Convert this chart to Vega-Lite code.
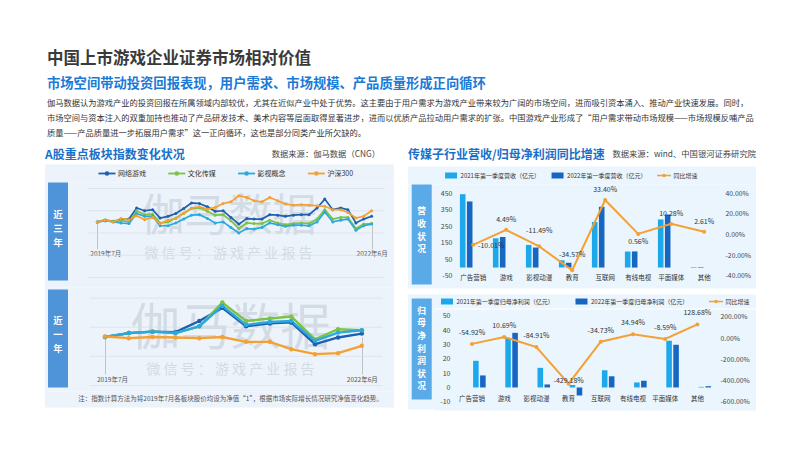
{
  "$schema": "https://vega.github.io/schema/vega-lite/v6.json",
  "background": "white",
  "padding": {"left": 45, "top": 51, "right": 46, "bottom": 43},
  "config": {
    "font": "Noto Sans CJK SC",
    "view": {"stroke": null},
    "locale": {"number": {"decimal": ".", "thousands": ",", "grouping": [3], "currency": ["", ""], "minus": "-"}},
    "axis": {"labelFont": "Noto Sans CJK SC", "domain": false, "ticks": false, "grid": false, "labelColor": "#444", "labelFontSize": 7}
  },
  "title": {
    "text": "中国上市游戏企业证券市场相对价值",
    "subtitle": "市场空间带动投资回报表现，用户需求、市场规模、产品质量形成正向循环",
    "anchor": "start", "frame": "group", "dx": 2,
    "fontSize": 16.5, "fontWeight": "bold", "color": "#3a3a3a",
    "subtitleFontSize": 13.3, "subtitleFontWeight": "bold", "subtitleColor": "#1a7ad6",
    "subtitlePadding": 9, "offset": 6
  },
  "spacing": 5.5,
  "resolve": {"scale": {"color": "independent"}},
  "vconcat": [
    {
      "width": 711, "height": 45,
      "data": {"values": [
        {"line": 1, "text": "伽马数据认为游戏产业的投资回报在所属领域内部较优，尤其在近似产业中处于优势。这主要由于用户需求为游戏产业带来较为广阔的市场空间，进而吸引资本涌入、推动产业快速发展。同时，"},
        {"line": 2, "text": "市场空间与资本注入的双重加持也推动了产品研发技术、美术内容等层面取得显著进步，进而以优质产品拉动用户需求的扩张。中国游戏产业形成了“用户需求带动市场规模——市场规模反哺产品"},
        {"line": 3, "text": "质量——产品质量进一步拓展用户需求”这一正向循环，这也是部分同类产业所欠缺的。"}
      ]},
      "mark": {"type": "text", "align": "left", "baseline": "middle", "fontSize": 8.25, "color": "#333", "dx": 2},
      "encoding": {
        "x": {"value": 0},
        "y": {"field": "line", "type": "ordinal", "scale": {"type": "point", "padding": 0.5}, "axis": null},
        "text": {"field": "text"}
      }
    },
    {
      "hconcat": [
        {
          "vconcat": [
            {
              "width": 349, "height": 18,
              "data": {"values": [{"role": "head", "t": "A股重点板块指数变化状况"}, {"role": "src", "t": "数据来源：伽马数据（CNG）"}]},
              "layer": [
                {"transform": [{"filter": "datum.role == 'head'"}], "mark": {"type": "text", "align": "left", "baseline": "middle", "fontSize": 12, "fontWeight": "bold", "color": "#1a6fc7", "dy": -1}, "encoding": {"x": {"value": 0}, "text": {"field": "t"}}},
                {"transform": [{"filter": "datum.role == 'src'"}], "mark": {"type": "text", "align": "right", "baseline": "middle", "fontSize": 8.3, "color": "#444", "dx": -14, "dy": -1}, "encoding": {"x": {"value": "width"}, "text": {"field": "t"}}}
              ]
            },
            {
              "width": 349, "height": 18,
              "view": {"fill": "#ecf3fa"},
              "data": {"values": [{"name": "网络游戏"}, {"name": "文化传媒"}, {"name": "影视概念"}, {"name": "沪深300"}]},
              "encoding": {
                "x": {"field": "name", "type": "nominal", "scale": {"type": "point", "domain": ["网络游戏", "文化传媒", "影视概念", "沪深300"], "padding": 1, "align": 0.444}, "axis": null},
                "color": {"field": "name", "type": "nominal", "scale": {"domain": ["网络游戏", "文化传媒", "影视概念", "沪深300"], "range": ["#1f5fae", "#7dc242", "#2aa9e1", "#f5a034"]}, "legend": null}
              },
              "layer": [
                {"mark": {"type": "point", "shape": "M-1,0H1", "size": 289, "strokeWidth": 1.8, "filled": false, "opacity": 1}},
                {"mark": {"type": "point", "shape": "circle", "size": 20, "filled": true, "opacity": 1}},
                {"mark": {"type": "text", "align": "left", "baseline": "middle", "dx": 11, "fontSize": 7}, "encoding": {"text": {"field": "name"}, "color": {"value": "#333"}}}
              ]
            },
            {
              "hconcat": [
                {
                  "width": 24, "height": 105,
                  "view": {"fill": "#ecf3fa"},
                  "layer": [
                    {"data": {"values": [{"k": 1}]}, "mark": {"type": "rect", "color": "#4f93d8"},
                     "encoding": {
                       "x": {"datum": 0.125, "type": "quantitative", "scale": {"domain": [0, 1], "nice": false}, "axis": null},
                       "x2": {"datum": 0.958},
                       "y": {"datum": 0, "type": "quantitative", "scale": {"domain": [0, 1], "nice": false, "reverse": true}, "axis": null},
                       "y2": {"datum": 0.933}}},
                    {"data": {"values": [{"c": "近", "i": 1}, {"c": "三", "i": 2}, {"c": "年", "i": 3}]},
                     "mark": {"type": "text", "color": "white", "fontSize": 9.6, "fontWeight": "bold", "baseline": "middle", "align": "center"},
                     "encoding": {"x": {"datum": 0.54, "type": "quantitative"}, "y": {"field": "i", "type": "quantitative", "scale": {"domain": [-1.357, 6.143], "nice": false, "zero": false, "reverse": true}, "axis": null}, "text": {"field": "c"}}}
                  ],
                  "resolve": {"scale": {"y": "independent"}}
                },
                {
                  "width": 325, "height": 105,
                  "view": {"fill": "#ecf3fa"},
                  "layer": [
                    {"data": {"values": [{"t": "伽马数据"}]}, "mark": {"type": "text", "fontSize": 44, "color": "#9aa6b4", "opacity": 0.3, "dx": -3, "dy": -17, "baseline": "middle"}, "encoding": {"text": {"field": "t"}}},
                    {"data": {"values": [{"t": "微 信 号 ： 游 戏 产 业 报 告"}]}, "mark": {"type": "text", "fontSize": 14, "color": "#9aa6b4", "opacity": 0.3, "dx": -3, "dy": 19, "baseline": "middle"}, "encoding": {"text": {"field": "t"}}},
                    {"data": {"values": [{"gv": 0}, {"gv": 0.4}, {"gv": 0.8}, {"gv": 1.2}, {"gv": 1.6}]}, "mark": {"type": "rule", "color": "#d5dee8", "strokeWidth": 0.7},
                     "encoding": {"y": {"field": "gv", "type": "quantitative", "axis": null}, "x": {"datum": {"year": 2019, "month": 5, "date": 26}, "type": "temporal"}, "x2": {"datum": {"year": 2022, "month": 7, "date": 16}}}},
                    {
                      "data": {"values": [
                        {"m": "2019-07", "网络游戏": 1.00, "文化传媒": 1.00, "影视概念": 1.00, "沪深300": 1.00},
                        {"m": "2019-08", "网络游戏": 1.02, "文化传媒": 1.04, "影视概念": 1.02, "沪深300": 1.03},
                        {"m": "2019-09", "网络游戏": 1.01, "文化传媒": 1.01, "影视概念": 1.00, "沪深300": 1.00},
                        {"m": "2019-10", "网络游戏": 1.04, "文化传媒": 1.02, "影视概念": 0.98, "沪深300": 1.06},
                        {"m": "2019-11", "网络游戏": 1.05, "文化传媒": 1.00, "影视概念": 0.97, "沪深300": 1.04},
                        {"m": "2019-12", "网络游戏": 1.25, "文化传媒": 1.20, "影视概念": 1.15, "沪深300": 1.11},
                        {"m": "2020-01", "网络游戏": 1.20, "文化传媒": 1.13, "影视概念": 1.10, "沪深300": 1.04},
                        {"m": "2020-02", "网络游戏": 1.22, "文化传媒": 1.14, "影视概念": 1.10, "沪深300": 1.08},
                        {"m": "2020-03", "网络游戏": 1.07, "文化传媒": 0.98, "影视概念": 0.93, "沪深300": 0.97},
                        {"m": "2020-04", "网络游戏": 1.10, "文化传媒": 1.00, "影视概念": 0.93, "沪深300": 1.03},
                        {"m": "2020-05", "网络游戏": 1.15, "文化传媒": 1.07, "影视概念": 0.98, "沪深300": 1.06},
                        {"m": "2020-06", "网络游戏": 1.24, "文化传媒": 1.15, "影视概念": 1.05, "沪深300": 1.16},
                        {"m": "2020-07", "网络游戏": 1.34, "文化传媒": 1.24, "影视概念": 1.12, "沪深300": 1.25},
                        {"m": "2020-08", "网络游戏": 1.33, "文化传媒": 1.25, "影视概念": 1.13, "沪深300": 1.27},
                        {"m": "2020-09", "网络游戏": 1.27, "文化传媒": 1.19, "影视概念": 1.06, "沪深300": 1.23},
                        {"m": "2020-10", "网络游戏": 1.19, "文化传媒": 1.12, "影视概念": 0.98, "沪深300": 1.26},
                        {"m": "2020-11", "网络游戏": 1.20, "文化传媒": 1.13, "影视概念": 1.00, "沪深300": 1.33},
                        {"m": "2020-12", "网络游戏": 1.08, "文化传媒": 1.02, "影视概念": 0.90, "沪深300": 1.36},
                        {"m": "2021-01", "网络游戏": 0.96, "文化传媒": 0.88, "影视概念": 0.80, "沪深300": 1.47},
                        {"m": "2021-02", "网络游戏": 1.06, "文化传媒": 0.98, "影视概念": 0.88, "沪深300": 1.44},
                        {"m": "2021-03", "网络游戏": 1.05, "文化传媒": 0.97, "影视概念": 0.87, "沪深300": 1.38},
                        {"m": "2021-04", "网络游戏": 1.05, "文化传媒": 0.97, "影视概念": 0.90, "沪深300": 1.36},
                        {"m": "2021-05", "网络游戏": 1.13, "文化传媒": 1.03, "影视概念": 0.98, "沪深300": 1.44},
                        {"m": "2021-06", "网络游戏": 1.12, "文化传媒": 0.98, "影视概念": 0.95, "沪深300": 1.38},
                        {"m": "2021-07", "网络游戏": 1.10, "文化传媒": 0.95, "影视概念": 0.92, "沪深300": 1.32},
                        {"m": "2021-08", "网络游戏": 1.12, "文化传媒": 0.97, "影视概念": 0.94, "沪深300": 1.30},
                        {"m": "2021-09", "网络游戏": 1.13, "文化传媒": 0.98, "影视概念": 0.94, "沪深300": 1.31},
                        {"m": "2021-10", "网络游戏": 1.13, "文化传媒": 0.97, "影视概念": 0.93, "沪深300": 1.30},
                        {"m": "2021-11", "网络游戏": 1.25, "文化传媒": 1.05, "影视概念": 1.00, "沪深300": 1.29},
                        {"m": "2021-12", "网络游戏": 1.41, "文化传媒": 1.22, "影视概念": 1.18, "沪深300": 1.28},
                        {"m": "2022-01", "网络游戏": 1.22, "文化传媒": 1.05, "影视概念": 1.00, "沪深300": 1.22},
                        {"m": "2022-02", "网络游戏": 1.25, "文化传媒": 1.08, "影视概念": 1.03, "沪深300": 1.22},
                        {"m": "2022-03", "网络游戏": 1.22, "文化传媒": 1.08, "影视概念": 1.05, "沪深300": 1.17},
                        {"m": "2022-04", "网络游戏": 0.98, "文化传媒": 0.88, "影视概念": 0.85, "沪深300": 1.07},
                        {"m": "2022-05", "网络游戏": 1.05, "文化传媒": 0.96, "影视概念": 0.93, "沪深300": 1.10},
                        {"m": "2022-06", "网络游戏": 1.10, "文化传媒": 0.97, "影视概念": 0.96, "沪深300": 1.20}
                      ]},
                      "transform": [{"fold": ["网络游戏", "文化传媒", "影视概念", "沪深300"], "as": ["s", "v"]}],
                      "encoding": {
                        "x": {"field": "m", "type": "temporal", "scale": {"domain": [{"year": 2019, "month": 3, "date": 13}, {"year": 2022, "month": 8, "date": 27}], "nice": false},
                              "axis": {"values": [{"year": 2019, "month": 7, "date": 1}, {"year": 2022, "month": 6, "date": 1}], "labelExpr": "year(datum.value) == 2019 ? '2019年7月' : '2022年6月'", "labelOffset": {"condition": {"test": "year(datum.value) == 2019", "value": 8}, "value": 0}, "labelFlush": false, "orient": "bottom", "offset": -65.6, "ticks": true, "tickSize": 27, "tickColor": "#b5b5b5", "tickWidth": 0.8, "labelPadding": 2, "labelFontSize": 6.5, "labelColor": "#555", "labelAngle": 0, "domain": false, "grid": false, "title": null}},
                        "y": {"field": "v", "type": "quantitative", "scale": {"domain": [-0.18, 1.708], "nice": false},
                              "axis": {"values": [0, 0.4, 0.8, 1.2, 1.6], "format": ".1f", "offset": -17, "labelPadding": 3, "grid": false, "domain": false, "ticks": false, "title": null, "labelFontSize": 7, "labelColor": "#444"}},
                        "color": {"field": "s", "type": "nominal", "scale": {"domain": ["网络游戏", "文化传媒", "影视概念", "沪深300"], "range": ["#1f5fae", "#7dc242", "#2aa9e1", "#f5a034"]}, "legend": null}
                      },
                      "layer": [
                        {"mark": {"type": "line", "strokeWidth": 1.7}},
                        {"mark": {"type": "point", "filled": true, "size": 9, "opacity": 1}}
                      ]
                    }
                  ]
                }
              ],
              "spacing": 0
            },
            {
              "hconcat": [
                {
                  "width": 24, "height": 104,
                  "view": {"fill": "#ecf3fa"},
                  "layer": [
                    {"data": {"values": [{"k": 1}]}, "mark": {"type": "rect", "color": "#4f93d8"},
                     "encoding": {
                       "x": {"datum": 0.125, "type": "quantitative", "scale": {"domain": [0, 1], "nice": false}, "axis": null},
                       "x2": {"datum": 0.958},
                       "y": {"datum": 0.019, "type": "quantitative", "scale": {"domain": [0, 1], "nice": false, "reverse": true}, "axis": null},
                       "y2": {"datum": 0.962}}},
                    {"data": {"values": [{"c": "近", "i": 1}, {"c": "一", "i": 2}, {"c": "年", "i": 3}]},
                     "mark": {"type": "text", "color": "white", "fontSize": 9.4, "fontWeight": "bold", "baseline": "middle", "align": "center"},
                     "encoding": {"x": {"datum": 0.54, "type": "quantitative"}, "y": {"field": "i", "type": "quantitative", "scale": {"domain": [-1.493, 6.154], "nice": false, "zero": false, "reverse": true}, "axis": null}, "text": {"field": "c"}}}
                  ],
                  "resolve": {"scale": {"y": "independent"}}
                },
                {
                  "width": 325, "height": 104,
                  "view": {"fill": "#ecf3fa"},
                  "layer": [
                    {"data": {"values": [{"t": "伽马数据"}]}, "mark": {"type": "text", "fontSize": 50, "color": "#9aa6b4", "opacity": 0.3, "dx": -1, "dy": -10, "baseline": "middle"}, "encoding": {"text": {"field": "t"}}},
                    {"data": {"values": [{"t": "微 信 号 ： 游 戏 产 业 报 告"}]}, "mark": {"type": "text", "fontSize": 14, "color": "#9aa6b4", "opacity": 0.3, "dx": -1, "dy": 30, "baseline": "middle"}, "encoding": {"text": {"field": "t"}}},
                    {"data": {"values": [{"gv": 0.5}, {"gv": 0.8}, {"gv": 1.1}, {"gv": 1.4}]}, "mark": {"type": "rule", "color": "#d5dee8", "strokeWidth": 0.7},
                     "encoding": {"y": {"field": "gv", "type": "quantitative", "axis": null}, "x": {"datum": {"year": 2021, "month": 6, "date": 11}, "type": "temporal"}, "x2": {"datum": {"year": 2022, "month": 6, "date": 28}}}},
                    {
                      "data": {"values": [
                        {"m": "2021-07", "网络游戏": 1.00, "文化传媒": 1.00, "影视概念": 1.00, "沪深300": 1.005},
                        {"m": "2021-08", "网络游戏": 1.04, "文化传媒": 1.04, "影视概念": 1.04, "沪深300": 0.988},
                        {"m": "2021-09", "网络游戏": 1.055, "文化传媒": 1.055, "影视概念": 1.055, "沪深300": 1.00},
                        {"m": "2021-10", "网络游戏": 1.05, "文化传媒": 1.04, "影视概念": 1.04, "沪深300": 0.995},
                        {"m": "2021-11", "网络游戏": 1.165, "文化传媒": 1.11, "影视概念": 1.11, "沪深300": 0.988},
                        {"m": "2021-12", "网络游戏": 1.30, "文化传媒": 1.355, "影视概念": 1.32, "沪深300": 1.00},
                        {"m": "2022-01", "网络游戏": 1.11, "文化传媒": 1.165, "影视概念": 1.125, "沪深300": 0.95},
                        {"m": "2022-02", "网络游戏": 1.14, "文化传媒": 1.19, "影视概念": 1.155, "沪深300": 0.95},
                        {"m": "2022-03", "网络游戏": 1.15, "文化传媒": 1.21, "影视概念": 1.165, "沪深300": 0.874},
                        {"m": "2022-04", "网络游戏": 0.925, "文化传媒": 0.975, "影视概念": 0.96, "沪深300": 0.823},
                        {"m": "2022-05", "网络游戏": 0.995, "文化传媒": 1.08, "影视概念": 1.045, "沪深300": 0.833},
                        {"m": "2022-06", "网络游戏": 1.035, "文化传媒": 1.07, "影视概念": 1.07, "沪深300": 0.909}
                      ]},
                      "transform": [{"fold": ["网络游戏", "文化传媒", "影视概念", "沪深300"], "as": ["s", "v"]}],
                      "encoding": {
                        "x": {"field": "m", "type": "temporal", "scale": {"domain": [{"year": 2021, "month": 5, "date": 15}, {"year": 2022, "month": 7, "date": 13}], "nice": false},
                              "axis": {"values": [{"year": 2021, "month": 7, "date": 1}, {"year": 2022, "month": 6, "date": 1}], "labelExpr": "year(datum.value) == 2021 ? '2019年7月' : '2022年6月'", "labelOffset": {"condition": {"test": "year(datum.value) == 2021", "value": 7}, "value": 0}, "labelFlush": false, "orient": "bottom", "offset": -54.5, "ticks": true, "tickSize": 37, "tickColor": "#b5b5b5", "tickWidth": 0.8, "labelPadding": 2, "labelFontSize": 6.5, "labelColor": "#555", "labelAngle": 0, "domain": false, "grid": false, "title": null}},
                        "y": {"field": "v", "type": "quantitative", "scale": {"domain": [0.438, 1.51], "nice": false, "zero": false},
                              "axis": {"values": [0.5, 0.8, 1.1, 1.4], "format": ".1f", "offset": -17, "labelPadding": 3, "grid": false, "domain": false, "ticks": false, "title": null, "labelFontSize": 7, "labelColor": "#444"}},
                        "color": {"field": "s", "type": "nominal", "scale": {"domain": ["网络游戏", "文化传媒", "影视概念", "沪深300"], "range": ["#1f5fae", "#7dc242", "#2aa9e1", "#f5a034"]}, "legend": null}
                      },
                      "layer": [
                        {"mark": {"type": "line", "strokeWidth": 2.4}},
                        {"mark": {"type": "point", "filled": true, "size": 20, "opacity": 1}}
                      ]
                    }
                  ]
                }
              ],
              "spacing": 0
            },
            {
              "width": 349, "height": 16,
              "view": {"fill": "#ecf3fa"},
              "data": {"values": [{"t": "注：指数计算方法为将2019年7月各板块股价均设为净值“1”，根据市场实际增长情况研究净值变化趋势。"}]},
              "mark": {"type": "text", "fontSize": 6.5, "color": "#555", "dx": 11, "dy": -1, "baseline": "middle"},
              "encoding": {"text": {"field": "t"}}
            }
          ],
          "spacing": 0,
          "resolve": {"scale": {"color": "independent"}}
        },
        {
          "vconcat": [
            {
              "width": 348, "height": 12,
              "data": {"values": [{"role": "head", "t": "传媒子行业营收/归母净利润同比增速"}, {"role": "src", "t": "数据来源：wind、中国银河证券研究院"}]},
              "layer": [
                {"transform": [{"filter": "datum.role == 'head'"}], "mark": {"type": "text", "align": "left", "baseline": "middle", "fontSize": 12, "fontWeight": "bold", "color": "#1a6fc7", "dy": 2}, "encoding": {"x": {"value": 0}, "text": {"field": "t"}}},
                {"transform": [{"filter": "datum.role == 'src'"}], "mark": {"type": "text", "align": "right", "baseline": "middle", "fontSize": 8.3, "color": "#444", "dy": 2}, "encoding": {"x": {"value": "width"}, "text": {"field": "t"}}}
              ]
            },
            {
              "vconcat": [
                {
                  "width": 348, "height": 18,
                  "view": {"fill": "#eaf5fd"},
                  "data": {"values": [{"name": "2021年第一季度营收（亿元）"}, {"name": "2022年第一季度营收（亿元）"}, {"name": "同比增速"}]},
                  "encoding": {
                    "x": {"field": "name", "type": "nominal", "scale": {"type": "point", "domain": ["2021年第一季度营收（亿元）", "2022年第一季度营收（亿元）", "同比增速"], "padding": 0.634, "align": 0.319}, "axis": null},
                    "color": {"field": "name", "type": "nominal", "scale": {"domain": ["2021年第一季度营收（亿元）", "2022年第一季度营收（亿元）", "同比增速"], "range": ["#1ea8ec", "#1766c2", "#f5a033"]}, "legend": null}
                  },
                  "layer": [
                    {"transform": [{"filter": "datum.name != '同比增速'"}], "mark": {"type": "point", "shape": "M-1,-0.5H1V0.5H-1Z", "size": 144, "filled": true, "opacity": 1}},
                    {"transform": [{"filter": "datum.name == '同比增速'"}], "mark": {"type": "point", "shape": "M-1,0H1", "size": 196, "strokeWidth": 1.5, "filled": false, "opacity": 1}},
                    {"transform": [{"filter": "datum.name == '同比增速'"}], "mark": {"type": "point", "shape": "circle", "size": 12, "filled": true, "opacity": 1}},
                    {"mark": {"type": "text", "align": "left", "baseline": "middle", "dx": 9.5, "fontSize": 6}, "encoding": {"text": {"field": "name"}, "color": {"value": "#333"}}}
                  ]
                },
                {
                  "hconcat": [
                    {
                      "width": 26, "height": 104,
                      "view": {"fill": "#eaf5fd"},
                      "layer": [
                        {"data": {"values": [{"k": 1}]}, "mark": {"type": "rect", "color": "#5aaae8"},
                         "encoding": {
                           "x": {"datum": 0.142, "type": "quantitative", "scale": {"domain": [0, 1], "nice": false}, "axis": null},
                           "x2": {"datum": 0.912},
                           "y": {"datum": 0, "type": "quantitative", "scale": {"domain": [0, 1], "nice": false, "reverse": true}, "axis": null},
                           "y2": {"datum": 0.962}}},
                        {"data": {"values": [{"c": "营", "i": 1}, {"c": "收", "i": 2}, {"c": "状", "i": 3}, {"c": "况", "i": 4}]},
                         "mark": {"type": "text", "color": "white", "fontSize": 8.7, "fontWeight": "bold", "baseline": "middle", "align": "center"},
                         "encoding": {"x": {"datum": 0.527, "type": "quantitative"}, "y": {"field": "i", "type": "quantitative", "scale": {"domain": [-1.135, 7.119], "nice": false, "zero": false, "reverse": true}, "axis": null}, "text": {"field": "c"}}}
                      ],
                      "resolve": {"scale": {"y": "independent"}}
                    },
                    {
                      "width": 322, "height": 104,
                      "view": {"fill": "#eaf5fd"},
                      "data": {"values": [
                        {"cat": "广告营销", "2021年第一季度营收（亿元）": 444, "2022年第一季度营收（亿元）": 400, "g": -0.1001},
                        {"cat": "游戏", "2021年第一季度营收（亿元）": 177, "2022年第一季度营收（亿元）": 185, "g": 0.0449},
                        {"cat": "影视动漫", "2021年第一季度营收（亿元）": 137, "2022年第一季度营收（亿元）": 121, "g": -0.1149},
                        {"cat": "教育", "2021年第一季度营收（亿元）": 44, "2022年第一季度营收（亿元）": 29, "g": -0.3457},
                        {"cat": "互联网", "2021年第一季度营收（亿元）": 276, "2022年第一季度营收（亿元）": 368, "g": 0.334},
                        {"cat": "有线电视", "2021年第一季度营收（亿元）": 97, "2022年第一季度营收（亿元）": 97.5, "g": 0.0056},
                        {"cat": "平面媒体", "2021年第一季度营收（亿元）": 291, "2022年第一季度营收（亿元）": 321, "g": 0.1028},
                        {"cat": "其他", "2021年第一季度营收（亿元）": 3.1, "2022年第一季度营收（亿元）": 3.2, "g": 0.0261}
                      ]},
                      "encoding": {
                        "x": {"field": "cat", "type": "nominal", "scale": {"domain": ["广告营销", "游戏", "影视动漫", "教育", "互联网", "有线电视", "平面媒体", "其他"], "paddingInner": 0, "paddingOuter": 0.879, "align": 0.391},
                              "axis": {"orient": "bottom", "offset": -16, "labelPadding": 2, "labelFontSize": 6.5, "labelColor": "#333", "labelAngle": 0, "domain": false, "ticks": false, "title": null}}
                      },
                      "layer": [
                        {
                          "transform": [{"fold": ["2021年第一季度营收（亿元）", "2022年第一季度营收（亿元）"], "as": ["s", "v"]}],
                          "mark": {"type": "bar"},
                          "encoding": {
                            "xOffset": {"field": "s", "type": "nominal", "scale": {"domain": ["2021年第一季度营收（亿元）", "2022年第一季度营收（亿元）"], "paddingInner": 0.2, "paddingOuter": 0.464}},
                            "y": {"field": "v", "type": "quantitative", "scale": {"domain": [-126.9, 502.7], "nice": false},
                                  "axis": {"values": [-50, 50, 150, 250, 350, 450], "format": "d", "offset": -21, "labelPadding": 3, "title": null, "labelFontSize": 7, "labelColor": "#444"}},
                            "y2": {"datum": 0},
                            "color": {"field": "s", "type": "nominal", "scale": {"domain": ["2021年第一季度营收（亿元）", "2022年第一季度营收（亿元）"], "range": ["#1ea8ec", "#1766c2"]}, "legend": null}
                          }
                        },
                        {
                          "encoding": {
                            "y": {"field": "g", "type": "quantitative", "scale": {"domain": [-0.523, 0.4843], "nice": false},
                                  "axis": {"orient": "right", "values": [-0.4, -0.2, 0, 0.2, 0.4], "format": ".2%", "offset": -34, "labelPadding": 3, "title": null, "labelFontSize": 6.8, "labelColor": "#444"}}
                          },
                          "layer": [
                            {"mark": {"type": "line", "color": "#f5a033", "strokeWidth": 2}},
                            {"mark": {"type": "point", "filled": true, "color": "#f5a033", "size": 16, "opacity": 1}},
                            {"transform": [{"filter": "datum.cat == '游戏' || datum.cat == '互联网' || datum.cat == '平面媒体' || datum.cat == '其他'"}], "mark": {"type": "text", "dy": -10, "fontSize": 7, "color": "#333"}, "encoding": {"text": {"field": "g", "type": "quantitative", "format": ".2%"}}},
                            {"transform": [{"filter": "datum.cat == '影视动漫' || datum.cat == '教育'"}], "mark": {"type": "text", "dy": -15, "fontSize": 7, "color": "#333"}, "encoding": {"text": {"field": "g", "type": "quantitative", "format": ".2%"}}},
                            {"transform": [{"filter": "datum.cat == '广告营销'"}], "mark": {"type": "text", "dx": 18, "dy": 1, "fontSize": 7, "color": "#333"}, "encoding": {"text": {"field": "g", "type": "quantitative", "format": ".2%"}}},
                            {"transform": [{"filter": "datum.cat == '有线电视'"}], "mark": {"type": "text", "dy": 8, "fontSize": 7, "color": "#333"}, "encoding": {"text": {"field": "g", "type": "quantitative", "format": ".2%"}}}
                          ]
                        }
                      ],
                      "resolve": {"scale": {"y": "independent"}}
                    }
                  ],
                  "spacing": 0
                }
              ],
              "spacing": 0,
              "resolve": {"scale": {"color": "independent"}}
            },
            {
              "hconcat": [
                {
                  "width": 26, "height": 115,
                  "view": {"fill": "#eaf5fd"},
                  "layer": [
                    {"data": {"values": [{"k": 1}]}, "mark": {"type": "rect", "color": "#5aaae8"},
                     "encoding": {
                       "x": {"datum": 0.142, "type": "quantitative", "scale": {"domain": [0, 1], "nice": false}, "axis": null},
                       "x2": {"datum": 0.912},
                       "y": {"datum": 0.035, "type": "quantitative", "scale": {"domain": [0, 1], "nice": false, "reverse": true}, "axis": null},
                       "y2": {"datum": 0.913}}},
                    {"data": {"values": [{"c": "归", "i": 1}, {"c": "母", "i": 2}, {"c": "净", "i": 3}, {"c": "利", "i": 4}, {"c": "润", "i": 5}, {"c": "状", "i": 6}, {"c": "况", "i": 7}]},
                     "mark": {"type": "text", "color": "white", "fontSize": 8.7, "fontWeight": "bold", "baseline": "middle", "align": "center"},
                     "encoding": {"x": {"datum": 0.527, "type": "quantitative"}, "y": {"field": "i", "type": "quantitative", "scale": {"domain": [-0.286, 8.841], "nice": false, "zero": false, "reverse": true}, "axis": null}, "text": {"field": "c"}}}
                  ],
                  "resolve": {"scale": {"y": "independent"}}
                },
                {
                  "vconcat": [
                    {
                      "width": 322, "height": 14,
                      "view": {"fill": "#eaf5fd"},
                      "data": {"values": [{"name": "2021年第一季度归母净利润（亿元）"}, {"name": "2022年第一季度归母净利润（亿元）"}, {"name": "同比增速"}]},
                      "encoding": {
                        "x": {"field": "name", "type": "nominal", "scale": {"type": "point", "domain": ["2021年第一季度归母净利润（亿元）", "2022年第一季度归母净利润（亿元）", "同比增速"], "padding": 0.197, "align": 0.245}, "axis": null},
                        "color": {"field": "name", "type": "nominal", "scale": {"domain": ["2021年第一季度归母净利润（亿元）", "2022年第一季度归母净利润（亿元）", "同比增速"], "range": ["#1ea8ec", "#1766c2", "#f5a033"]}, "legend": null}
                      },
                      "layer": [
                        {"transform": [{"filter": "datum.name != '同比增速'"}], "mark": {"type": "point", "shape": "M-1,-0.5H1V0.5H-1Z", "size": 144, "filled": true, "opacity": 1}},
                        {"transform": [{"filter": "datum.name == '同比增速'"}], "mark": {"type": "point", "shape": "M-1,0H1", "size": 196, "strokeWidth": 1.5, "filled": false, "opacity": 1}},
                        {"transform": [{"filter": "datum.name == '同比增速'"}], "mark": {"type": "point", "shape": "circle", "size": 12, "filled": true, "opacity": 1}},
                        {"mark": {"type": "text", "align": "left", "baseline": "middle", "dx": 9.5, "fontSize": 6}, "encoding": {"text": {"field": "name"}, "color": {"value": "#333"}}}
                      ]
                    },
                    {
                      "width": 322, "height": 101,
                      "view": {"fill": "#eaf5fd"},
                      "data": {"values": [
                        {"cat": "广告营销", "2021年第一季度归母净利润（亿元）": 18.6, "2022年第一季度归母净利润（亿元）": 8.4, "g": -0.5492},
                        {"cat": "游戏", "2021年第一季度归母净利润（亿元）": 34.4, "2022年第一季度归母净利润（亿元）": 38.1, "g": 0.1069},
                        {"cat": "影视动漫", "2021年第一季度归母净利润（亿元）": 13.7, "2022年第一季度归母净利润（亿元）": 2.1, "g": -0.8491},
                        {"cat": "教育", "2021年第一季度归母净利润（亿元）": 1.7, "2022年第一季度归母净利润（亿元）": -5.6, "g": -4.2918},
                        {"cat": "互联网", "2021年第一季度归母净利润（亿元）": 12.0, "2022年第一季度归母净利润（亿元）": 7.8, "g": -0.3473},
                        {"cat": "有线电视", "2021年第一季度归母净利润（亿元）": 3.5, "2022年第一季度归母净利润（亿元）": 4.7, "g": 0.3494},
                        {"cat": "平面媒体", "2021年第一季度归母净利润（亿元）": 32.6, "2022年第一季度归母净利润（亿元）": 29.8, "g": -0.0859},
                        {"cat": "其他", "2021年第一季度归母净利润（亿元）": 0.4, "2022年第一季度归母净利润（亿元）": 0.9, "g": 1.2868}
                      ]},
                      "encoding": {
                        "x": {"field": "cat", "type": "nominal", "scale": {"domain": ["广告营销", "游戏", "影视动漫", "教育", "互联网", "有线电视", "平面媒体", "其他"], "paddingInner": 0, "paddingOuter": 1, "align": 0.34},
                              "axis": {"orient": "bottom", "offset": -17, "labelPadding": 2, "labelFontSize": 6.5, "labelColor": "#333", "labelAngle": 0, "domain": false, "ticks": false, "title": null}}
                      },
                      "layer": [
                        {
                          "transform": [{"fold": ["2021年第一季度归母净利润（亿元）", "2022年第一季度归母净利润（亿元）"], "as": ["s", "v"]}],
                          "mark": {"type": "bar"},
                          "encoding": {
                            "xOffset": {"field": "s", "type": "nominal", "scale": {"domain": ["2021年第一季度归母净利润（亿元）", "2022年第一季度归母净利润（亿元）"], "paddingInner": 0.2, "paddingOuter": 0.43}},
                            "y": {"field": "v", "type": "quantitative", "scale": {"domain": [-16.07, 54.4], "nice": false},
                                  "axis": {"values": [-10, 0, 10, 20, 30, 40, 50], "format": "d", "offset": -19, "labelPadding": 3, "title": null, "labelFontSize": 7, "labelColor": "#444"}},
                            "y2": {"datum": 0},
                            "color": {"field": "s", "type": "nominal", "scale": {"domain": ["2021年第一季度归母净利润（亿元）", "2022年第一季度归母净利润（亿元）"], "range": ["#1ea8ec", "#1766c2"]}, "legend": null}
                          }
                        },
                        {
                          "encoding": {
                            "y": {"field": "g", "type": "quantitative", "scale": {"domain": [-6.819, 2.687], "nice": false},
                                  "axis": {"orient": "right", "values": [-6, -4, -2, 0, 2], "format": ".2%", "offset": -39, "labelPadding": 3, "title": null, "labelFontSize": 6.8, "labelColor": "#444"}}
                          },
                          "layer": [
                            {"mark": {"type": "line", "color": "#f5a033", "strokeWidth": 2}},
                            {"mark": {"type": "point", "filled": true, "color": "#f5a033", "size": 16, "opacity": 1}},
                            {"transform": [{"filter": "datum.cat != '教育'"}], "mark": {"type": "text", "dy": -11, "fontSize": 7, "color": "#333"}, "encoding": {"text": {"field": "g", "type": "quantitative", "format": ".2%"}}},
                            {"transform": [{"filter": "datum.cat == '教育'"}], "mark": {"type": "text", "dy": -3, "fontSize": 7, "color": "#333"}, "encoding": {"text": {"field": "g", "type": "quantitative", "format": ".2%"}}}
                          ]
                        }
                      ],
                      "resolve": {"scale": {"y": "independent"}}
                    }
                  ],
                  "spacing": 0,
                  "resolve": {"scale": {"color": "independent"}}
                }
              ],
              "spacing": 0,
              "resolve": {"scale": {"color": "independent"}}
            }
          ],
          "spacing": 6,
          "resolve": {"scale": {"color": "independent"}}
        }
      ],
      "spacing": 14,
      "resolve": {"scale": {"color": "independent"}}
    }
  ]
}
